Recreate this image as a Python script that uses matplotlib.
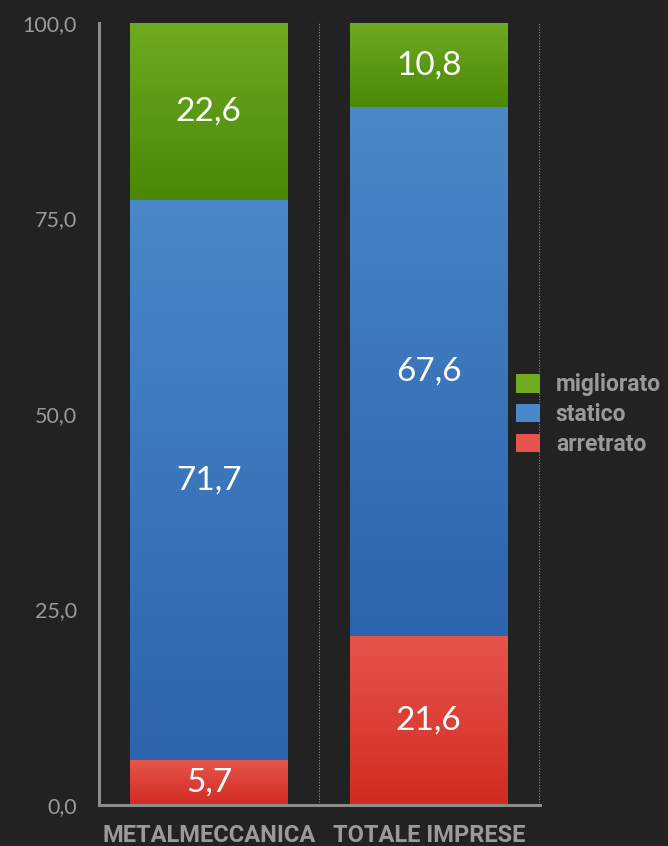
# Stacked bar chart: metalmeccanica vs totale imprese
import numpy as np
import matplotlib
matplotlib.use("Agg")
import matplotlib.pyplot as plt
from matplotlib.colors import LinearSegmentedColormap
from matplotlib.patches import Patch

# Data
categories = ["METALMECCANICA", "TOTALE IMPRESE"]
arretrato = [5.7, 21.6]
statico = [71.7, 67.6]
migliorato = [22.6, 10.8]
yticks = [0, 25, 50, 75, 100]

bg = "#222222"
grey = "#9a9a9a"
# (top colour, bottom colour) for the gradients
grad = {
    "arretrato": ("#e6554d", "#d22b21"),
    "statico": ("#4a88c9", "#2d64ad"),
    "migliorato": ("#6faa20", "#4a8906"),
}

plt.rcParams["font.family"] = ["Lato", "DejaVu Sans"]
boldfam = ["Roboto", "DejaVu Sans"]

fig = plt.figure(figsize=(6.68, 8.46), dpi=100, facecolor=bg)
ax = fig.add_axes([0.148, 0.0485, 0.660, 0.9243])
ax.set_facecolor(bg)

x = np.arange(len(categories))
width = 0.717
bottom1 = np.array(arretrato)
bottom2 = bottom1 + np.array(statico)

series = [("arretrato", arretrato, np.zeros(2)),
          ("statico", statico, bottom1),
          ("migliorato", migliorato, bottom2)]

gradient = np.linspace(1, 0, 256).reshape(-1, 1)
for name, vals, bot in series:
    top_c, bot_c = grad[name]
    cmap = LinearSegmentedColormap.from_list(name, [bot_c, top_c])
    bars = ax.bar(x, vals, width, bottom=bot, color=top_c, linewidth=0, zorder=2)
    for b, v, b0 in zip(bars, vals, bot):
        x0 = b.get_x()
        im = ax.imshow(gradient, extent=[x0, x0 + width, b0, b0 + v],
                       aspect="auto", cmap=cmap, vmin=0, vmax=1, zorder=3)
        im.set_clip_path(b)
        ax.text(b.get_x() + width / 2, b0 + v / 2, f"{v:.1f}".replace(".", ","),
                ha="center", va="center", color="white", fontsize=24, zorder=5)

# dotted category separators
for xv in [0.5, 1.5]:
    ax.plot([xv, xv], [0, 100], color="#8a8a8a", linestyle=(0, (1, 1.5)),
            linewidth=0.8, zorder=1)

ax.set_xlim(-0.5, 1.505)
ax.set_ylim(0, 100)
ax.set_yticks(yticks)
ax.set_yticklabels([f"{t:.1f}".replace(".", ",") for t in yticks])
ax.set_xticks(x)
ax.set_xticklabels(categories)
ax.tick_params(axis="y", length=0, pad=16, labelsize=15.5, labelcolor=grey)
ax.tick_params(axis="x", length=0, pad=14, labelsize=17, labelcolor=grey)
for lab in ax.get_xticklabels():
    lab.set_fontweight("bold")
    lab.set_family(boldfam)

for s in ["top", "right"]:
    ax.spines[s].set_visible(False)
for s in ["left", "bottom"]:
    ax.spines[s].set_color("#8c8c8c")
    ax.spines[s].set_linewidth(2.2)
    ax.spines[s].set_zorder(4)

handles = [Patch(facecolor=grad[n][0], edgecolor="none") for n in
           ["migliorato", "statico", "arretrato"]]
leg = fig.legend(handles, ["migliorato", "statico", "arretrato"],
                 loc="center left", bbox_to_anchor=(0.772, 0.5100),
                 frameon=False, prop={"family": boldfam, "weight": "bold", "size": 16.5},
                 handlelength=1.05, handleheight=0.87, labelspacing=0.3,
                 handletextpad=0.7, borderaxespad=0, borderpad=0)
for t in leg.get_texts():
    t.set_color(grey)

fig.savefig("out.png", dpi=100, facecolor=bg)
